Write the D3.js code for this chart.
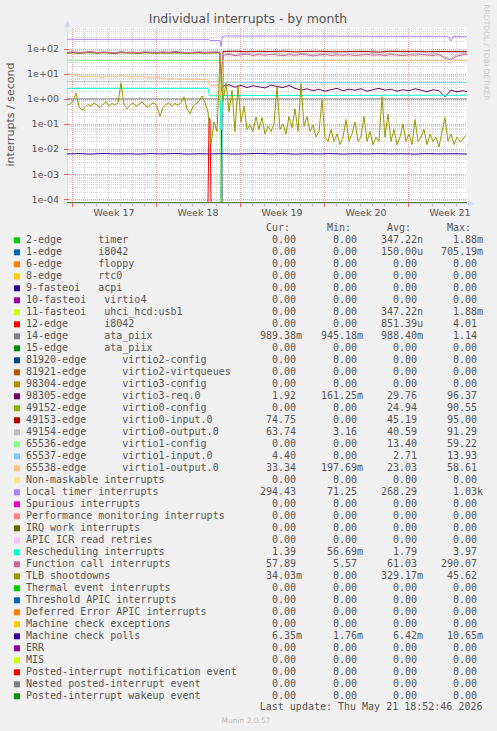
<!DOCTYPE html>
<html><head><meta charset="utf-8">
<script src="https://cdn.jsdelivr.net/npm/d3@7"></script>
<style>
html,body{margin:0;padding:0;background:#F0F0F0;}
svg{display:block;}
text{white-space:pre;}
</style></head>
<body><svg id="chart" width="497" height="731"></svg>
<script>
// ---------------- data ----------------
const chartTitle = "Individual interrupts - by month";
const yAxisLabel = "interrupts / second";
const watermark = "RRDTOOL / TOBI OETIKER";
const lastUpdate = "Last update: Thu May 21 18:52:46 2026";
const footer = "Munin 2.0.57";
const startUTC = Date.UTC(2026, 3, 19, 14, 0, 0);   // graph start
const spanHours = 800;                              // graph span (hours)
const yMin = 7.13e-5, yMax = 655;
const yTicks = [1e-4, 1e-3, 1e-2, 1e-1, 1, 10, 100];
const yTickLabels = ["1e-04", "1e-03", "1e-02", "1e-01", "1e+00", "1e+01", "1e+02"];
const legendHeaders = ["Cur:", "Min:", "Avg:", "Max:"];

const legendNames = [
"2-edge      timer","1-edge      i8042","6-edge      floppy","8-edge      rtc0",
"9-fasteoi   acpi","10-fasteoi   virtio4","11-fasteoi   uhci_hcd:usb1","12-edge      i8042",
"14-edge      ata_piix","15-edge      ata_piix","81920-edge      virtio2-config",
"81921-edge      virtio2-virtqueues","98304-edge      virtio3-config","98305-edge      virtio3-req.0",
"49152-edge      virtio0-config","49153-edge      virtio0-input.0","49154-edge      virtio0-output.0",
"65536-edge      virtio1-config","65537-edge      virtio1-input.0","65538-edge      virtio1-output.0",
"Non-maskable interrupts","Local timer interrupts","Spurious interrupts",
"Performance monitoring interrupts","IRQ work interrupts","APIC ICR read retries",
"Rescheduling interrupts","Function call interrupts","TLB shootdowns",
"Thermal event interrupts","Threshold APIC interrupts","Deferred Error APIC interrupts",
"Machine check exceptions","Machine check polls","ERR","MIS",
"Posted-interrupt notification event","Nested posted-interrupt event","Posted-interrupt wakeup event"];

const seriesColors = ["#00CC00","#0066B3","#FF8000","#FFCC00","#330099","#990099","#CCFF00","#FF0000","#808080","#008F00",
"#00487D","#B35A00","#B38F00","#6B006B","#8FB300","#B30000","#BEBEBE","#80FF80","#80C9FF","#FFC080",
"#FFE680","#AA80FF","#EE00CC","#FF8080","#666600","#FFBFFF","#00FFCC","#CC6699","#999900",
"#00CC00","#0066B3","#FF8000","#FFCC00","#330099","#990099","#CCFF00","#FF0000","#808080","#008F00"];

const curVals = ["0.00","0.00","0.00","0.00","0.00","0.00","0.00","0.00","989.38m","0.00","0.00","0.00","0.00","1.92","0.00","74.75","63.74","0.00","4.40","33.34","0.00","294.43","0.00","0.00","0.00","0.00","1.39","57.89","34.03m","0.00","0.00","0.00","0.00","6.35m","0.00","0.00","0.00","0.00","0.00"];
const minVals = ["0.00","0.00","0.00","0.00","0.00","0.00","0.00","0.00","945.18m","0.00","0.00","0.00","0.00","161.25m","0.00","0.00","3.16","0.00","0.00","197.69m","0.00","71.25","0.00","0.00","0.00","0.00","56.69m","5.57","0.00","0.00","0.00","0.00","0.00","1.76m","0.00","0.00","0.00","0.00","0.00"];
const avgVals = ["347.22n","150.00u","0.00","0.00","0.00","0.00","347.22n","851.39u","988.40m","0.00","0.00","0.00","0.00","29.76","24.94","45.19","40.59","13.40","2.71","23.03","0.00","268.29","0.00","0.00","0.00","0.00","1.79","61.03","329.17m","0.00","0.00","0.00","0.00","6.42m","0.00","0.00","0.00","0.00","0.00"];
const maxVals = ["1.88m","705.19m","0.00","0.00","0.00","0.00","1.88m","4.01","1.14","0.00","0.00","0.00","0.00","96.37","90.55","95.00","91.29","59.22","13.93","58.61","0.00","1.03k","0.00","0.00","0.00","0.00","3.97","290.07","45.62","0.00","0.00","0.00","0.00","10.65m","0.00","0.00","0.00","0.00","0.00"];

// series samples: [hour, value] breakpoints or regular runs
const zeroPts = [[0,0],[800,0]];
const timerPts = [[0,0],[307,0],[309,1.39e-4],[311,0],[800,0]];
const i8042aPts = [[0,0],[307,0],[309,0.06],[311,0],[800,0]];
const i8042bPts = [[0,0],[282,0],[284,0.17],[286,0.16],[288,0],[800,0]];
const ataPts = [[0,0.99],[306,0.99],[308,0.945],[310,1.12],[312,0.988],[800,0.989]];
const req0Before = [66,70,64,68,72,65,69,67,63,71,66,68,64,70,67,65,69,66,72,68,64,67,70,66,68,69];
const req0After = [3.2,3.6,2.9,3.4,2.8,3.3,3.0,2.7,3.5,3.1,2.8,3.4,2.6,2.2,2.5,2.1,2.4,2.0,2.3,2.6,2.1,2.4,2.2,2.5,2.0,2.3,2.6,2.2,2.4,2.0,2.3,2.1,2.5,2.2,1.9,2.3,2.1,1.2,2.2,1.9,2.1];
const v0cfgPts = [[0,66],[100,67],[200,65],[306,66],[308,0],[800,0]];
const v0inAfter = [76,78,74,77,75,79,73,76,78,75,74,77,76,72,78,75,77,74,76,75,74.75];
const v0outAfter = [60,64,58,62,66,59,63,61,57,65,60,62,58,64,61,59,63,60,66,62,58,61,64,60,62,63,59,61,64,58,62,60,63,61,59,64,62,45,40,58,63];
const v1cfgPts = [[0,34],[306,34],[308,0],[800,0]];
const v1inPts = [[0,0],[310,0],[312,4.5],[800,4.4]];
const v1outBefore = [10,9.5,8,7.5,8.2,7.6,7,8,7.4,8.5,7.8,7.2,8,7.5,6.8,7.2,6.5,6,6.4,5.8,6.2,5.6,6,5.8];
const localTimerPts = [[0,232],[284,232],[286,208],[306,208],[308,118],[311,314],[500,312],[600,308],[762,308],[768,199],[772,300],[800,294]];
const reschedPts = [[0,2.6],[282,2.6],[285,1.32],[306,1.32],[308,0.057],[311,1.35],[800,1.39]];
const funcBefore = [70,74,68,72,76,69,73,71,67,75,70,72,68,74,71,69,73,70,76,72,68,71,74,70,72,73];
const funcAfter = [55,58,52,56,60,53,57,54,59,55,52,57,54,58,56,51,55,59,53,56,54,57,52,55,58,54,56,53,57,55,52,56,54,58,55,53,57,40,35,50,56];
const tlbVals = [
 0.55,0.6,0.8,1.7,0.5,0.35,0.45,0.6,0.5,0.7,
 0.55,0.45,0.6,0.75,0.5,0.65,0.55,0.7,4.2,0.6,
 0.4,0.55,0.7,0.5,0.6,0.75,0.55,0.45,0.6,0.7,
 0.5,0.2,0.45,0.6,0.7,0.5,0.65,0.55,0.7,1.2,
 0.4,0.25,0.5,0.65,0.8,1.3,0.7,0.3,
 0.015,0.12,0.05,45,0.8,4.2,0.3,2.2,0.05,3.5,0.12,0.5,
 0.06,0.09,0.05,0.19,0.06,0.18,0.04,0.08,0.05,0.1,
 3.0,0.06,0.1,0.04,0.2,0.07,0.4,0.05,4.0,0.08,
 0.2,0.05,0.09,0.03,0.05,0.9,0.03,0.02,0.06,0.02,
 0.04,0.015,0.03,0.15,0.02,0.04,0.12,0.02,0.03,0.2,
 0.02,0.05,0.015,0.03,0.02,1.2,0.03,0.25,0.02,0.06,
 0.015,0.03,0.1,0.02,0.04,0.015,0.15,0.02,0.03,0.06,
 0.015,0.04,0.02,0.03,0.012,0.05,0.18,0.02,0.04,0.015,
 0.03,0.02,0.025,0.035];
const mcpVals = [0.0064,0.0066,0.0063,0.0067,0.0064,0.0065,0.0063,0.0066,0.0064,0.0067,0.0063,0.0065,0.0064,0.0066,0.0063,0.0065,0.0067,0.0064,0.0066,0.0063,0.0065,0.0064,0.0066,0.0063,0.0065,0.0064,0.0066,0.0064,0.0065,0.0063,0.0066,0.0064,0.0065,0.0064];

function run(h0, step, vals) { return vals.map((v, i) => [h0 + i * step, v]); }

const seriesPoints = [
  timerPts, i8042aPts, zeroPts, zeroPts, zeroPts, zeroPts, timerPts, i8042bPts, ataPts, zeroPts,
  zeroPts, zeroPts, zeroPts,
  [...run(0,12,req0Before), [306,68],[308,2.0], ...run(312,12,req0After), [800,1.92]],
  v0cfgPts,
  [[0,0],[310,0], ...run(312,24,v0inAfter), [800,74.75]],
  [[0,4.9],[150,4.8],[306,4.7],[308,3.16], ...run(312,12,v0outAfter), [800,63.74]],
  v1cfgPts, v1inPts,
  [...run(0,12,v1outBefore), [282,5.8],[285,3.3],[306,3.4],[308,0.198],[312,33],[500,33.5],[760,33],[766,25],[772,33],[800,33.34]],
  zeroPts, localTimerPts, zeroPts, zeroPts, zeroPts, zeroPts, reschedPts,
  [...run(0,12,funcBefore), [306,72],[308,8.8], ...run(312,12,funcAfter), [800,57.89]],
  run(0,6,tlbVals),
  zeroPts, zeroPts, zeroPts, zeroPts,
  [...run(0,24,mcpVals), [800,0.00635]],
  zeroPts, zeroPts, zeroPts, zeroPts, zeroPts
];

// ---------------- drawing ----------------
const svg = d3.select("#chart");
const W = 497, H = 731;
const L = 67, R = 467, T = 28, B = 203;
const font = "DejaVu Sans", mono = "DejaVu Sans Mono", fg = "#555";

const t0 = new Date(startUTC), t1 = new Date(startUTC + spanHours * 3600e3);
const x = d3.scaleUtc().domain([t0, t1]).range([L, R]);
const y = d3.scaleLog().domain([yMin, yMax]).range([B, T]).clamp(true);
const hx = h => x(new Date(startUTC + h * 3600e3));
const vy = v => y(Math.max(v, yMin));

svg.append("rect").attr("width", W).attr("height", H).attr("fill", "#F0F0F0");
svg.append("rect").attr("x", L).attr("y", T).attr("width", R - L).attr("height", B - T).attr("fill", "#fff");

const grid = svg.append("g").attr("shape-rendering", "crispEdges");
const minorY = [];
for (let k = -5; k <= 2; k++) for (let m = 2; m <= 9; m++) { const v = m * Math.pow(10, k); if (v > yMin && v < yMax) minorY.push(v); }
grid.selectAll(".hmin").data(minorY).enter().append("line")
  .attr("x1", L).attr("x2", R).attr("y1", d => Math.round(y(d)) + 0.5).attr("y2", d => Math.round(y(d)) + 0.5)
  .attr("stroke", "#d6d6d6").attr("stroke-dasharray", "1,1");
const days = d3.utcDay.range(t0, t1);
grid.selectAll(".vmin").data(days).enter().append("line")
  .attr("y1", T).attr("y2", B).attr("x1", d => Math.round(x(d)) + 0.5).attr("x2", d => Math.round(x(d)) + 0.5)
  .attr("stroke", "#d6d6d6").attr("stroke-dasharray", "1,1");
grid.selectAll(".hmaj").data(yTicks).enter().append("line")
  .attr("x1", L).attr("x2", R).attr("y1", d => Math.round(y(d)) + 0.5).attr("y2", d => Math.round(y(d)) + 0.5)
  .attr("stroke", "#eea0a0").attr("stroke-dasharray", "1,1");
const weeks = d3.utcMonday.range(t0, t1);
grid.selectAll(".vmaj").data(weeks).enter().append("line")
  .attr("y1", T).attr("y2", B).attr("x1", d => Math.round(x(d)) + 0.5).attr("x2", d => Math.round(x(d)) + 0.5)
  .attr("stroke", "#eea0a0").attr("stroke-dasharray", "1,1");

// axes
const axisCol = "#CFD6F8";
const ax = svg.append("g").attr("shape-rendering", "crispEdges");
ax.append("line").attr("x1", L - 3).attr("x2", R + 2).attr("y1", B + 0.5).attr("y2", B + 0.5).attr("stroke", axisCol);
ax.append("line").attr("x1", L + 0.5).attr("x2", L + 0.5).attr("y1", B + 3).attr("y2", T - 2).attr("stroke", axisCol);
ax.selectAll(".dt").data(days).enter().append("line")
  .attr("x1", d => Math.round(x(d)) + 0.5).attr("x2", d => Math.round(x(d)) + 0.5).attr("y1", B + 1).attr("y2", B + 3).attr("stroke", "#bbb");
ax.selectAll(".wt").data(weeks).enter().append("line")
  .attr("x1", d => Math.round(x(d)) + 0.5).attr("x2", d => Math.round(x(d)) + 0.5).attr("y1", B - 1).attr("y2", B + 4).attr("stroke", "#e06060");
ax.selectAll(".yt").data(yTicks).enter().append("line")
  .attr("x1", L - 3).attr("x2", L + 2).attr("y1", d => Math.round(y(d)) + 0.5).attr("y2", d => Math.round(y(d)) + 0.5).attr("stroke", "#e06060");
svg.append("path").attr("d", `M${L - 2.5},${T - 1}L${L + 3.5},${T - 1}L${L + 0.5},${T - 7}Z`).attr("fill", axisCol);
svg.append("path").attr("d", `M${R + 1},${B - 2.5}L${R + 1},${B + 3.5}L${R + 7},${B + 0.5}Z`).attr("fill", axisCol);

// axis labels
svg.selectAll(".ytl").data(yTicks).enter().append("text")
  .attr("x", 59).attr("y", d => y(d)).attr("dy", "0.36em").attr("text-anchor", "end")
  .attr("font-family", font).attr("font-size", 9.5).attr("fill", fg)
  .text((d, i) => yTickLabels[i]);
const weekFmt = d3.utcFormat("Week %V");
svg.selectAll(".xtl").data(weeks).enter().append("text")
  .attr("x", d => x(new Date(+d + 3.5 * 864e5))).attr("y", 216).attr("text-anchor", "middle")
  .attr("font-family", font).attr("font-size", 9.5).attr("fill", fg)
  .text(d => weekFmt(d));

// title, y label, watermark
svg.append("text").attr("x", 248).attr("y", 23).attr("text-anchor", "middle")
  .attr("font-family", font).attr("font-size", 12.5).attr("fill", fg).text(chartTitle);
svg.append("text").attr("transform", "translate(14,114.5) rotate(-90)").attr("text-anchor", "middle")
  .attr("font-family", font).attr("font-size", 11).attr("fill", fg).text(yAxisLabel);
svg.append("text").attr("transform", "translate(484,52.5) rotate(90)").attr("text-anchor", "middle")
  .attr("font-family", font).attr("font-size", 7.5).attr("fill", "#c8c8c8").text(watermark);

// series
svg.append("clipPath").attr("id", "plotclip").append("rect")
  .attr("x", L).attr("y", T - 1).attr("width", R - L + 1).attr("height", B - T + 1);
const line = d3.line().x(d => hx(d[0])).y(d => vy(d[1]));
const lines = svg.append("g").attr("clip-path", "url(#plotclip)");
seriesPoints.forEach((pts, i) => {
  lines.append("path").attr("d", line(pts)).attr("fill", "none")
    .attr("stroke", seriesColors[i]).attr("stroke-width", 1);
});

// legend
const rowY = i => 243.3 + 12 * i;
const colEnds = [296, 357, 417, 477];
const leg = svg.append("g").attr("font-family", mono).attr("font-size", 10).attr("fill", fg);
legendHeaders.forEach((h, j) => leg.append("text").attr("x", colEnds[j] - 6).attr("y", 231.3).attr("text-anchor", "end").text(h));
const cols = [curVals, minVals, avgVals, maxVals];
legendNames.forEach((name, i) => {
  leg.append("rect").attr("x", 14).attr("y", rowY(i) - 6).attr("width", 6).attr("height", 6).attr("fill", seriesColors[i]);
  leg.append("text").attr("x", 26).attr("y", rowY(i)).text(name);
  cols.forEach((arr, j) => {
    const s = arr[i];
    const suf = /[a-zA-Z]$/.test(s) ? s.slice(-1) : "";
    const num = suf ? s.slice(0, -1) : s;
    leg.append("text").attr("x", colEnds[j]).attr("y", rowY(i)).attr("text-anchor", "end").text(num);
    if (suf) leg.append("text").attr("x", colEnds[j]).attr("y", rowY(i)).text(suf);
  });
});
leg.append("text").attr("x", 482.5).attr("y", 709.5).attr("text-anchor", "end").text(lastUpdate);
svg.append("text").attr("x", 246).attr("y", 723).attr("text-anchor", "middle")
  .attr("font-family", font).attr("font-size", 7.5).attr("fill", "#bbb").text(footer);
</script>
</body></html>
